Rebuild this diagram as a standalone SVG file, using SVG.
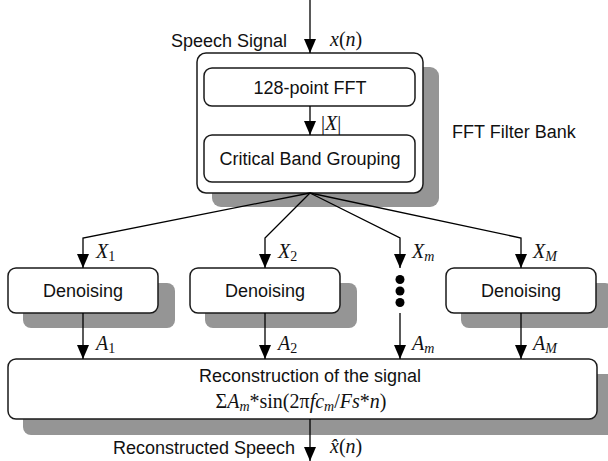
<svg xmlns="http://www.w3.org/2000/svg" width="608" height="461" viewBox="0 0 608 461">
<style>
.box{fill:#fff;stroke:#1a1a1a;stroke-width:1.5}
.sh{fill:#959595}
.ln{fill:none;stroke:#000;stroke-width:1.3}
.t{font-family:"Liberation Sans",Arial,sans-serif;font-size:18px;fill:#111}
.m{font-family:"Liberation Serif","Times New Roman",serif;font-size:20px;fill:#111}
.i{font-style:italic}
</style>
<defs>
<marker id="ah" viewBox="0 0 14 12" refX="14" refY="6" markerWidth="14" markerHeight="12" markerUnits="userSpaceOnUse" orient="auto">
<path d="M0,0 L14,6 L0,12 Z" fill="#000"/>
</marker>
</defs>
<rect width="608" height="461" fill="#fff"/>
<g id="fft-filter-bank">
<rect class="sh" x="212" y="67" width="227" height="140" rx="9"/>
<rect class="box" x="197" y="53" width="226" height="140" rx="9"/>
<text class="t" x="452" y="138">FFT Filter Bank</text>
</g>
<g id="fft128">
<rect class="box" x="204" y="68" width="211" height="38" rx="8"/>
<text class="t" x="310" y="94" text-anchor="middle">128-point FFT</text>
</g>
<g id="grouping">
<rect class="box" x="204" y="135" width="211" height="47" rx="8"/>
<text class="t" x="310" y="165" text-anchor="middle">Critical Band Grouping</text>
</g>
<g id="denoise1">
<rect class="sh" x="23" y="283" width="152" height="45" rx="8"/>
<rect class="box" x="8" y="268" width="150" height="45" rx="8"/>
<text class="t" x="83" y="297" text-anchor="middle">Denoising</text>
</g>
<g id="denoise2">
<rect class="sh" x="205" y="283" width="152" height="45" rx="8"/>
<rect class="box" x="190" y="268" width="150" height="45" rx="8"/>
<text class="t" x="265" y="297" text-anchor="middle">Denoising</text>
</g>
<g id="dots">
<circle cx="400" cy="279.5" r="4.5" fill="#000"/>
<circle cx="400" cy="291" r="4.5" fill="#000"/>
<circle cx="400" cy="302.5" r="4.5" fill="#000"/>
</g>
<g id="denoiseM">
<rect class="sh" x="461" y="283" width="152" height="45" rx="8"/>
<rect class="box" x="446" y="268" width="150" height="45" rx="8"/>
<text class="t" x="521" y="297" text-anchor="middle">Denoising</text>
</g>
<g id="reconstruction">
<rect class="sh" x="23" y="374" width="600" height="61" rx="8"/>
<rect class="box" x="8" y="359" width="589" height="60" rx="8"/>
<text class="t" x="310" y="382" text-anchor="middle">Reconstruction of the signal</text>
<text class="m" x="301" y="408" text-anchor="middle">Σ<tspan class="i">A</tspan><tspan class="i" font-size="14" dy="3">m</tspan><tspan dy="-3">*sin(2π</tspan><tspan class="i">fc</tspan><tspan class="i" font-size="14" dy="3">m</tspan><tspan dy="-3">/</tspan><tspan class="i">Fs</tspan>*<tspan class="i">n</tspan>)</text>
</g>
<g id="connectors">
<line class="ln" x1="310" y1="0" x2="310" y2="53" marker-end="url(#ah)"/>
<line class="ln" x1="310" y1="106" x2="310" y2="135" marker-end="url(#ah)"/>
<polyline class="ln" points="310,193 83,238 83,268" marker-end="url(#ah)"/>
<polyline class="ln" points="310,193 265,238 265,268" marker-end="url(#ah)"/>
<polyline class="ln" points="310,193 400,238 400,268" marker-end="url(#ah)"/>
<polyline class="ln" points="310,193 521,238 521,268" marker-end="url(#ah)"/>
<line class="ln" x1="83" y1="313" x2="83" y2="359" marker-end="url(#ah)"/>
<line class="ln" x1="265" y1="313" x2="265" y2="359" marker-end="url(#ah)"/>
<line class="ln" x1="400" y1="313" x2="400" y2="359" marker-end="url(#ah)"/>
<line class="ln" x1="521" y1="313" x2="521" y2="359" marker-end="url(#ah)"/>
<line class="ln" x1="310" y1="419" x2="310" y2="461" marker-end="url(#ah)"/>
</g>
<g id="labels">
<text class="t" x="287" y="47" text-anchor="end">Speech Signal</text>
<text class="m" x="330" y="46"><tspan class="i">x</tspan>(<tspan class="i">n</tspan>)</text>
<text class="m" x="321" y="130" font-size="19">|<tspan class="i">X</tspan>|</text>
<text class="m" x="96" y="258"><tspan class="i">X</tspan><tspan font-size="14" dy="3">1</tspan></text>
<text class="m" x="278" y="258"><tspan class="i">X</tspan><tspan font-size="14" dy="3">2</tspan></text>
<text class="m" x="412" y="258"><tspan class="i">X</tspan><tspan class="i" font-size="14" dy="3">m</tspan></text>
<text class="m" x="533" y="258"><tspan class="i">X</tspan><tspan class="i" font-size="14" dy="3">M</tspan></text>
<text class="m" x="96" y="350"><tspan class="i">A</tspan><tspan font-size="14" dy="3">1</tspan></text>
<text class="m" x="278" y="350"><tspan class="i">A</tspan><tspan font-size="14" dy="3">2</tspan></text>
<text class="m" x="412" y="350"><tspan class="i">A</tspan><tspan class="i" font-size="14" dy="3">m</tspan></text>
<text class="m" x="533" y="350"><tspan class="i">A</tspan><tspan class="i" font-size="14" dy="3">M</tspan></text>
<text class="t" x="295" y="454" text-anchor="end">Reconstructed Speech</text>
<text class="m" x="330" y="453" font-size="22"><tspan class="i">x̂</tspan>(<tspan class="i">n</tspan>)</text>
</g>
</svg>
